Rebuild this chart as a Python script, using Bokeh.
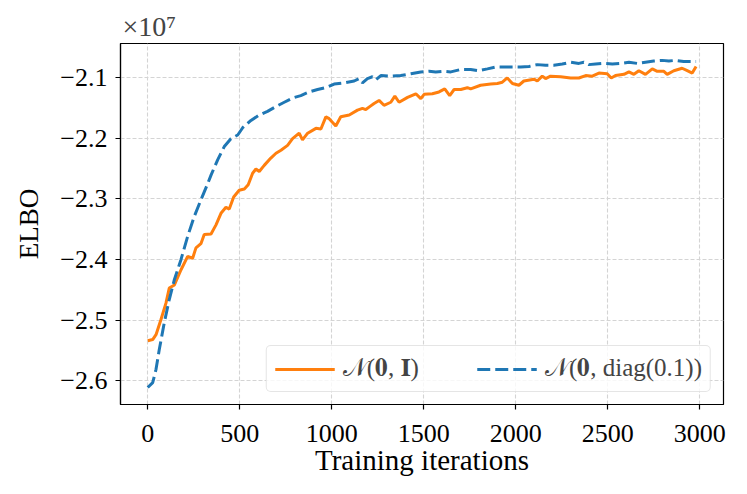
from bokeh.plotting import figure
from bokeh.models import Range1d, FixedTicker, Legend, LegendItem
from bokeh.embed import file_html
from bokeh.resources import INLINE

# ---- data (ELBO in units of 1e7) ----
iters_a = [0, 27, 45, 72, 99, 117, 145, 181, 217, 244, 262, 289, 307, 344, 371, 398, 425, 443, 467, 497,
           525, 546, 570, 588, 606, 633, 669, 697, 724, 760, 787, 823, 841, 869, 914, 941, 968, 986, 1022,
           1049, 1095, 1140, 1167, 1185, 1212, 1230, 1257, 1284, 1321, 1343, 1366, 1412, 1457, 1484, 1502,
           1547, 1583, 1614, 1641, 1665, 1701, 1737, 1755, 1809, 1864, 1900, 1927, 1954, 1982, 2017, 2044,
           2099, 2117, 2144, 2162, 2189, 2244, 2298, 2343, 2380, 2416, 2452, 2497, 2519, 2542, 2588, 2615,
           2642, 2669, 2705, 2742, 2769, 2805, 2823, 2859, 2904, 2932, 2959, 2980]
elbo_a = [-2.534, -2.532, -2.524, -2.499, -2.472, -2.447, -2.442, -2.417, -2.395, -2.398, -2.381, -2.374,
          -2.359, -2.358, -2.343, -2.324, -2.314, -2.317, -2.297, -2.286, -2.284, -2.277, -2.258, -2.251,
          -2.255, -2.245, -2.233, -2.225, -2.220, -2.212, -2.201, -2.192, -2.203, -2.192, -2.184, -2.185,
          -2.165, -2.168, -2.180, -2.165, -2.162, -2.154, -2.151, -2.153, -2.147, -2.143, -2.138, -2.146,
          -2.141, -2.131, -2.141, -2.133, -2.127, -2.135, -2.128, -2.127, -2.124, -2.119, -2.130, -2.120,
          -2.120, -2.117, -2.119, -2.113, -2.111, -2.110, -2.108, -2.101, -2.110, -2.113, -2.106, -2.103,
          -2.106, -2.098, -2.102, -2.098, -2.099, -2.101, -2.101, -2.097, -2.098, -2.093, -2.094, -2.101,
          -2.097, -2.095, -2.091, -2.095, -2.089, -2.095, -2.086, -2.090, -2.090, -2.095, -2.089, -2.085,
          -2.089, -2.093, -2.082]

iters_b = [0, 27, 45, 63, 90, 117, 145, 181, 217, 253, 289, 326, 344, 380, 416, 452, 489, 516, 561, 606,
           651, 697, 742, 787, 832, 877, 923, 977, 1013, 1067, 1122, 1149, 1167, 1194, 1221, 1240, 1267,
           1321, 1375, 1430, 1484, 1529, 1565, 1610, 1647, 1701, 1755, 1800, 1846, 1891, 1936, 1982, 2027,
           2072, 2117, 2162, 2207, 2253, 2298, 2343, 2370, 2397, 2434, 2479, 2525, 2570, 2615, 2660, 2705,
           2750, 2796, 2832, 2868, 2913, 2980]
elbo_b = [-2.611, -2.603, -2.581, -2.548, -2.504, -2.466, -2.433, -2.400, -2.362, -2.329, -2.302, -2.275,
          -2.261, -2.236, -2.214, -2.201, -2.195, -2.183, -2.171, -2.162, -2.156, -2.148, -2.141, -2.134,
          -2.130, -2.124, -2.120, -2.116, -2.111, -2.109, -2.106, -2.102, -2.109, -2.102, -2.099, -2.104,
          -2.097, -2.098, -2.097, -2.094, -2.091, -2.090, -2.091, -2.090, -2.091, -2.087, -2.087, -2.089,
          -2.086, -2.083, -2.083, -2.083, -2.083, -2.082, -2.079, -2.080, -2.080, -2.078, -2.075, -2.077,
          -2.075, -2.079, -2.078, -2.077, -2.078, -2.077, -2.075, -2.077, -2.075, -2.073, -2.072, -2.073,
          -2.072, -2.074, -2.074]

x_ticks = [0, 500, 1000, 1500, 2000, 2500, 3000]
y_ticks = [-2.6, -2.5, -2.4, -2.3, -2.2, -2.1]
y_tick_labels = ["\u22122.6", "\u22122.5", "\u22122.4", "\u22122.3", "\u22122.2", "\u22122.1"]
label_a = "\U0001D4A9(\U0001D7CE, \U0001D408)"
label_b = "\U0001D4A9(\U0001D7CE, diag(0.1))"
scale_text = "\u00d710\u2077"

FONT = "Liberation Serif"

p = figure(width=731, height=478, output_backend="svg", toolbar_location=None,
           x_range=Range1d(-148, 3129), y_range=Range1d(-2.639, -2.0442),
           min_border_left=120, min_border_right=8, min_border_top=43, min_border_bottom=73,
           title=scale_text)

p.title.text_font = FONT
p.title.text_font_size = "28px"
p.title.text_font_style = "normal"
p.title.align = "left"
p.title.offset = 2
p.title.standoff = 4

p.outline_line_color = "black"
p.outline_line_width = 1.2
p.background_fill_color = "white"
p.border_fill_color = "white"

for ax in (p.xaxis, p.yaxis):
    ax.axis_line_color = "black"
    ax.axis_line_width = 1.2
    ax.major_tick_line_color = "black"
    ax.major_tick_line_width = 1.2
    ax.major_tick_out = 5
    ax.major_tick_in = 0
    ax.minor_tick_line_color = None
    ax.major_label_text_font = FONT
    ax.major_label_text_font_size = "26px"
    ax.major_label_text_color = "black"
    ax.axis_label_text_font = FONT
    ax.axis_label_text_font_size = "27px"
    ax.axis_label_text_font_style = "normal"
    ax.axis_label_text_color = "black"

p.xaxis.axis_label_text_font_size = "29px"
p.xaxis.ticker = FixedTicker(ticks=x_ticks)
p.yaxis.ticker = FixedTicker(ticks=y_ticks)
p.yaxis.major_label_overrides = {t: l for t, l in zip(y_ticks, y_tick_labels)}
p.xaxis.axis_label = "Training iterations"
p.yaxis.axis_label = "ELBO"
p.xaxis.major_label_standoff = 15
p.yaxis.major_label_standoff = 8
p.xaxis.axis_label_standoff = -1
p.yaxis.axis_label_standoff = 13

for g in (p.xgrid, p.ygrid):
    g.grid_line_color = "#d4d4d4"
    g.grid_line_dash = "4 2"
    g.grid_line_width = 1.1
p.xgrid.ticker = FixedTicker(ticks=x_ticks)
p.ygrid.ticker = FixedTicker(ticks=y_ticks)

ra = p.line(iters_a, elbo_a, line_color="#ff7f0e", line_width=3)
rb = p.line(iters_b, elbo_b, line_color="#1f77b4", line_width=3, line_dash="13 5")

legend = Legend(items=[LegendItem(label=label_a, renderers=[ra]),
                       LegendItem(label=label_b, renderers=[rb])],
                orientation="horizontal", location="bottom_right", margin=12,
                padding=8, spacing=58, glyph_width=60, glyph_height=26, label_standoff=8,
                label_text_font=FONT, label_text_font_size="25px",
                border_line_color="#cccccc", border_line_width=1.2,
                background_fill_color="white", background_fill_alpha=0.8,
                border_radius=5)
p.add_layout(legend, "center")

open("out.html", "w").write(file_html(p, INLINE))
